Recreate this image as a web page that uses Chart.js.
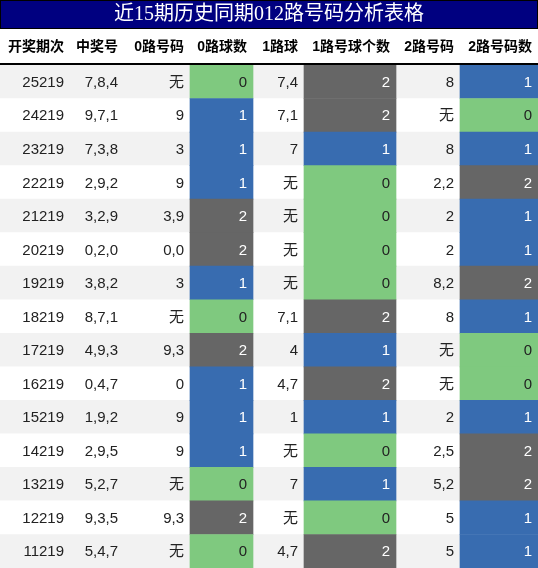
<!DOCTYPE html>
<html><head><meta charset="utf-8">
<script src="https://cdn.jsdelivr.net/npm/chart.js@4"></script>
<style>html,body{margin:0;padding:0;background:#fff}#w{width:538px;height:568px}</style>
</head><body><div id="w"><canvas id="c"></canvas></div>
<script>
const title = "近15期历史同期012路号码分析表格";
const headers = ["开奖期次","中奖号","0路号码","0路球数","1路球","1路号球个数","2路号码","2路号码数"];
const periods = ["25219","24219","23219","22219","21219","20219","19219","18219","17219","16219","15219","14219","13219","12219","11219"];
const winNums = ["7,8,4","9,7,1","7,3,8","2,9,2","3,2,9","0,2,0","3,8,2","8,7,1","4,9,3","0,4,7","1,9,2","2,9,5","5,2,7","9,3,5","5,4,7"];
const road0Nums = ["无","9","3","9","3,9","0,0","3","无","9,3","0","9","9","无","9,3","无"];
const road0Count = [0,1,1,1,2,2,1,0,2,1,1,1,0,2,0];
const road1Nums = ["7,4","7,1","7","无","无","无","无","7,1","4","4,7","1","无","7","无","4,7"];
const road1Count = [2,2,1,0,0,0,0,2,1,2,1,0,1,0,2];
const road2Nums = ["8","无","8","2,2","2","2","8,2","8","无","无","2","2,5","5,2","5","5"];
const road2Count = [1,0,1,2,1,1,2,1,0,0,1,2,2,1,1];

const edges = [0,70,124,190,253,304,396,460,538];
const countColor = v => v===0 ? "#7fc97f" : v===1 ? "#386cb0" : "#666666";
const textCols = [periods, winNums, road0Nums, road0Count, road1Nums, road1Count, road2Nums, road2Count];
const colored = {3: road0Count, 5: road1Count, 7: road2Count};

const datasets = [{
  data: periods.map(() => [edges[0], edges[8]]),
  backgroundColor: periods.map((_, i) => i % 2 === 0 ? "#f2f2f2" : "#ffffff"),
  barPercentage: 1, categoryPercentage: 1, grouped: false, order: 5
}];
for (const k in colored) {
  const c = +k;
  datasets.push({
    data: colored[c].map(() => [edges[c], edges[c+1]]),
    backgroundColor: colored[c].map(countColor),
    barPercentage: 1, categoryPercentage: 1, grouped: false, order: 1
  });
}

const tablePlugin = {
  id: 'tbl',
  afterDraw(chart) {
    const ctx = chart.ctx, xs = chart.scales.x, ys = chart.scales.y;
    ctx.save();
    ctx.fillStyle = "#000080"; ctx.fillRect(0, 0, 538, 29);
    ctx.strokeStyle = "#000"; ctx.lineWidth = 1; ctx.strokeRect(0.5, 0.5, 537, 28);
    ctx.fillStyle = "#fff"; ctx.font = '20px "Liberation Serif","Noto Sans CJK SC"';
    ctx.textAlign = "center"; ctx.textBaseline = "middle";
    ctx.fillText(title, 269, 15);
    ctx.fillStyle = "#000"; ctx.font = 'bold 14px "Liberation Sans","Noto Sans CJK SC"';
    headers.forEach((h, j) => {
      ctx.textAlign = "right";
      ctx.fillText(h, xs.getPixelForValue(edges[j+1]) - 6, 47);
    });
    ctx.fillRect(0, chart.chartArea.top - 2, 538, 2);
    ctx.font = '15px "Liberation Sans","Noto Sans CJK SC"';
    textCols.forEach((col, j) => {
      col.forEach((v, i) => {
        const y = ys.getPixelForValue(i);
        ctx.fillStyle = (colored[j] && colored[j][i] !== 0) ? "#fff" : "#222";
        ctx.textAlign = "right";
        ctx.fillText(String(v), xs.getPixelForValue(edges[j+1]) - 6, y + 1);
      });
    });
    ctx.restore();
  }
};

new Chart(document.getElementById('c'), {
  type: 'bar',
  data: { labels: periods, datasets },
  options: {
    indexAxis: 'y', responsive: true, maintainAspectRatio: false, animation: false,
    layout: { padding: { top: 65, left: 0, right: 0, bottom: 0 } },
    plugins: { legend: { display: false }, tooltip: { enabled: false } },
    scales: {
      x: { type: 'linear', min: edges[0], max: edges[8], display: false },
      y: { type: 'category', display: false, offset: true }
    }
  },
  plugins: [tablePlugin]
});
</script></body></html>
